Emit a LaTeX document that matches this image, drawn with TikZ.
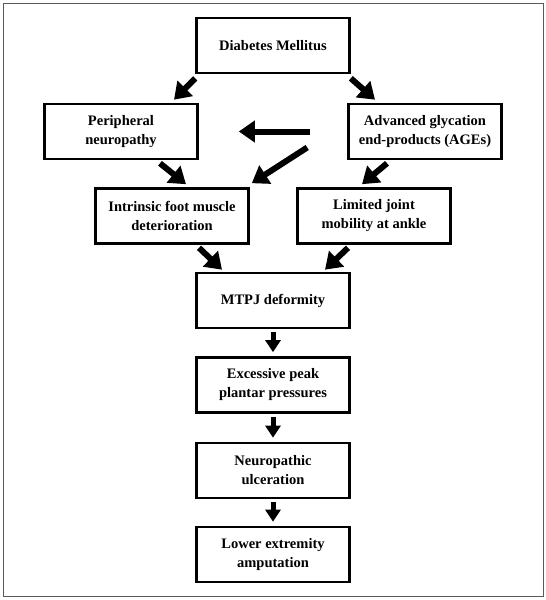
\documentclass[tikz,border=0pt]{standalone}
\usepackage{fontspec}
\setmainfont{Liberation Serif}
\usepackage{tikz}
\usetikzlibrary{arrows.meta, positioning}

\begin{document}
\begin{tikzpicture}[x=1pt, y=-1pt,
    box/.style={rectangle, draw, line width=2.6pt, minimum width=153pt, minimum height=55pt,
        inner sep=2pt, align=center, font=\fontsize{14.5}{19}\selectfont\bfseries},
    fat/.style={-{Triangle[length=16pt, width=21pt]}, line width=6pt},
    thin/.style={-{Triangle[length=12pt, width=15pt]}, line width=5pt}
]
\useasboundingbox (0,0) rectangle (546,600);
\draw[gray!70!black, line width=1pt] (3,3) rectangle (543,596);

% Top of the chart
\node[box] (dm) at (273,45.5) {Diabetes Mellitus};

% Two causes
\node[box] (pn) at (121,131.5) {Peripheral\\neuropathy};
\node[box] (age) at (425,131.5) {Advanced glycation\\end-products (AGEs)};

% Their effects
\node[box] (ifm) at (172,216) {Intrinsic foot muscle\\deterioration};
\node[box] (ljm) at (374,216) {Limited joint\\mobility at ankle};

% Main chain
\node[box] (mtpj) at (273,300.5) {MTPJ deformity};
\node[box] (epp) at (273,385) {Excessive peak\\plantar pressures};
\node[box] (nu) at (273,470.5) {Neuropathic\\ulceration};
\node[box] (lea) at (273,554.5) {Lower extremity\\amputation};

% Arrows from diabetes
\draw[fat] ([shift={(0,4)}]dm.south west) -- ([shift={(53,-3)}]pn.north);
\draw[fat] ([shift={(0,4)}]dm.south east) -- ([shift={(-50,-3)}]age.north);

% Arrows to the second row
\draw[fat] ([shift={(39,3)}]pn.south) -- ([shift={(14,-3)}]ifm.north);
\draw[fat] ([shift={(-38,3)}]age.south) -- ([shift={(-12,-3)}]ljm.north);
\draw[fat] ([shift={(-37,0)}]age.west) -- ([shift={(40,0)}]pn.east);
\draw[fat] ([shift={(-40,16)}]age.west) -- ([shift={(2,-4)}]ifm.north east);

% Arrows to deformity
\draw[fat] ([shift={(27,3)}]ifm.south) -- ([shift={(-51,-2)}]mtpj.north);
\draw[fat] ([shift={(-26,3)}]ljm.south) -- ([shift={(52,-2)}]mtpj.north);

% Down the chain
\draw[thin, shorten <=3pt, shorten >=4pt] (mtpj) -- (epp);
\draw[thin, shorten <=3pt, shorten >=4pt] (epp) -- (nu);
\draw[thin, shorten <=3pt, shorten >=4pt] (nu) -- (lea);
\end{tikzpicture}
\end{document}
